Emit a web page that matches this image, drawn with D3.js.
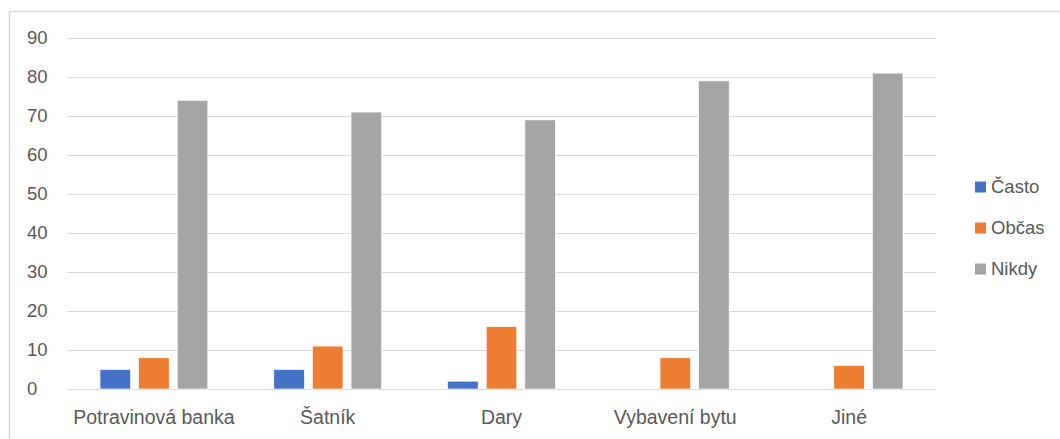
<!DOCTYPE html>
<html>
<head>
<meta charset="utf-8">
<script src="https://cdn.jsdelivr.net/npm/d3@7"></script>
<style>
  body { margin: 0; background: #fff; }
  text { font-family: "Liberation Sans", Arial, sans-serif; fill: #595959; }
</style>
</head>
<body>
<svg id="canvas" width="1060" height="439"></svg>
<script>
const categories = ["Potravinová banka", "Šatník", "Dary", "Vybavení bytu", "Jiné"]
const series = ["Často", "Občas", "Nikdy"]
const casto = [5, 5, 2, 0, 0]
const obcas = [8, 11, 16, 8, 6]
const nikdy = [74, 71, 69, 79, 81]
const yTicks = [0, 10, 20, 30, 40, 50, 60, 70, 80, 90]
const colors = ["#4472C4", "#ED7D31", "#A5A5A5"]

const values = [casto, obcas, nikdy]

const canvas = d3.select("#canvas")

// outer frame
canvas.append("rect")
      .attr("x", 9.5).attr("y", 11.5)
      .attr("width", 1070).attr("height", 440)
      .attr("fill", "none")
      .attr("stroke", "#d9d9d9")
      .attr("stroke-width", 1.5)

const plotLeft = 67, plotRight = 936, plotTop = 38, plotBottom = 389

const y = d3.scaleLinear().domain([0, 90]).range([plotBottom, plotTop])
const x0 = d3.scaleBand().domain(categories).range([plotLeft, plotRight]).padding(0)
const groupW = x0.bandwidth() * 0.62
const x1 = d3.scaleBand().domain(series).range([0, groupW]).paddingInner(0.21)

// gridlines
canvas.selectAll("line.grid")
      .data(yTicks)
      .enter()
      .append("line")
      .attr("class", "grid")
      .attr("x1", plotLeft).attr("x2", plotRight)
      .attr("y1", d => Math.round(y(d)) + 0.5)
      .attr("y2", d => Math.round(y(d)) + 0.5)
      .attr("stroke", "#d9d9d9")
      .attr("stroke-width", 1)

// y tick labels
canvas.selectAll("text.ytick")
      .data(yTicks)
      .enter()
      .append("text")
      .attr("class", "ytick")
      .attr("x", 27)
      .attr("y", d => y(d))
      .attr("dy", "0.35em")
      .attr("font-size", 18.5)
      .text(d => d)

// bars
const groups = canvas.selectAll("g.cat")
      .data(categories)
      .enter()
      .append("g")
      .attr("class", "cat")
      .attr("transform", d => `translate(${x0(d) + (x0.bandwidth() - groupW) / 2},0)`)

groups.selectAll("rect")
      .data((c, i) => series.map((s, j) => ({ s: s, v: values[j][i], j: j })).filter(d => d.v > 0))
      .enter()
      .append("rect")
      .attr("x", d => x1(d.s))
      .attr("width", x1.bandwidth())
      .attr("y", d => y(d.v))
      .attr("height", d => y(0) - y(d.v))
      .attr("fill", d => colors[d.j])
      .attr("stroke", "#fff")
      .attr("stroke-width", 0.6)

// category labels
canvas.selectAll("text.xlab")
      .data(categories)
      .enter()
      .append("text")
      .attr("class", "xlab")
      .attr("x", d => x0(d) + x0.bandwidth() / 2)
      .attr("y", 424)
      .attr("text-anchor", "middle")
      .attr("font-size", 19.5)
      .text(d => d)

// legend
const legend = canvas.selectAll("g.legend")
      .data(series)
      .enter()
      .append("g")
      .attr("class", "legend")
      .attr("transform", (d, i) => `translate(975,${187 + i * 41})`)

legend.append("rect")
      .attr("x", 0).attr("y", -5.5)
      .attr("width", 11).attr("height", 11)
      .attr("fill", (d, i) => colors[i])

legend.append("text")
      .attr("x", 16)
      .attr("y", 0)
      .attr("dy", "0.35em")
      .attr("font-size", 18.5)
      .text(d => d)
</script>
</body>
</html>
